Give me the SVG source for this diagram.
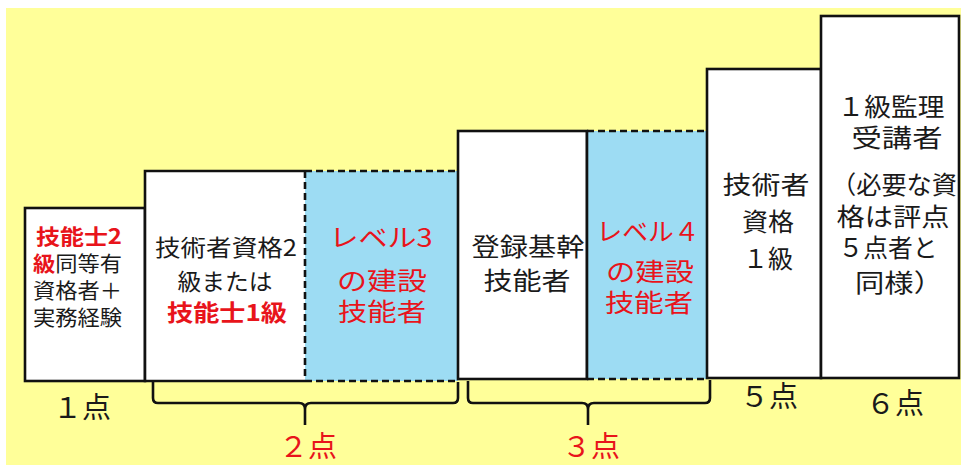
<svg xmlns="http://www.w3.org/2000/svg" width="961" height="465" viewBox="0 0 961 465">
<style>
text{font-family:"Noto Sans CJK JP","Noto Sans CJK SC",sans-serif;fill:#1a1a1a;text-anchor:middle}
.r{fill:#e8141b}
.b{font-weight:bold}
.box{fill:#fff;stroke:#111;stroke-width:2.6}
.blue{fill:#9ddcf3;stroke:none}
.sol{fill:none;stroke:#111;stroke-width:2.6}
.dash{fill:none;stroke:#111;stroke-width:2.6;stroke-dasharray:7 4}
.t1{font-size:21px;text-anchor:start}
.t2{font-size:23px}
.t3{font-size:25px}
.lbl{font-size:29px}
</style>
<rect x="6" y="8" width="955" height="457" fill="#ffff99"/>
<g id="node-1pt">
<rect class="box" x="25" y="208" width="120" height="173"/>
<text class="t1 r b" x="36" y="244" textLength="86" lengthAdjust="spacingAndGlyphs">技能士2</text>
<text class="t1" x="33" y="271" textLength="89" lengthAdjust="spacingAndGlyphs"><tspan class="r b">級</tspan>同等有</text>
<text class="t1" x="33" y="298" textLength="89" lengthAdjust="spacingAndGlyphs">資格者＋</text>
<text class="t1" x="33" y="325" textLength="89" lengthAdjust="spacingAndGlyphs">実務経験</text>
</g>
<g id="node-2pt-a">
<rect x="145" y="171" width="160" height="210" fill="#fff"/>
<path class="sol" d="M305,171 H145 V381 H305"/>
<text class="t2" x="226" y="256" textLength="142" lengthAdjust="spacingAndGlyphs">技術者資格2</text>
<text class="t2" x="225" y="290" textLength="95" lengthAdjust="spacingAndGlyphs">級または</text>
<text class="t2 r b" x="227" y="321" textLength="120" lengthAdjust="spacingAndGlyphs">技能士1級</text>
</g>
<g id="node-2pt-b">
<rect class="blue" x="305" y="171" width="153" height="210"/>
<path class="dash" d="M305,171 H458 M305,381 H458 M305,171 V381"/>
<text class="t3 r" x="381" y="247" textLength="103" lengthAdjust="spacingAndGlyphs">レベル3</text>
<text class="t3 r" x="382" y="290" textLength="90" lengthAdjust="spacingAndGlyphs">の建設</text>
<text class="t3 r" x="382" y="321" textLength="88" lengthAdjust="spacingAndGlyphs">技能者</text>
</g>
<g id="node-3pt-a">
<rect class="box" x="458" y="131" width="129" height="248"/>
<text class="t3" x="528" y="256" textLength="113" lengthAdjust="spacingAndGlyphs">登録基幹</text>
<text class="t3" x="527" y="290" textLength="87" lengthAdjust="spacingAndGlyphs">技能者</text>
</g>
<g id="node-3pt-b">
<rect class="blue" x="587" y="131" width="120" height="248"/>
<path class="dash" d="M587,131 H707 M587,379 H707"/>
<path class="sol" d="M587,131 V379"/>
<text class="t3 r" x="648" y="241" textLength="103" lengthAdjust="spacingAndGlyphs">レベル４</text>
<text class="t3 r" x="650" y="281" textLength="88" lengthAdjust="spacingAndGlyphs">の建設</text>
<text class="t3 r" x="649" y="312" textLength="88" lengthAdjust="spacingAndGlyphs">技能者</text>
</g>
<g id="node-5pt">
<rect class="box" x="707" y="69" width="114" height="309"/>
<text class="t3" x="766" y="194" textLength="87" lengthAdjust="spacingAndGlyphs">技術者</text>
<text class="t3" x="768" y="231" textLength="52" lengthAdjust="spacingAndGlyphs">資格</text>
<text class="t3" x="768" y="268" textLength="50" lengthAdjust="spacingAndGlyphs">１級</text>
</g>
<g id="node-6pt">
<rect class="box" x="821" y="16" width="138" height="362"/>
<text class="t3" x="891" y="116" textLength="107" lengthAdjust="spacingAndGlyphs">１級監理</text>
<text class="t3" x="897" y="147" textLength="91" lengthAdjust="spacingAndGlyphs">受講者</text>
<text class="t3" x="894" y="194" textLength="126" lengthAdjust="spacingAndGlyphs">（必要な資</text>
<text class="t3" x="893" y="226" textLength="113" lengthAdjust="spacingAndGlyphs">格は評点</text>
<text class="t3" x="888" y="257" textLength="99" lengthAdjust="spacingAndGlyphs">５点者と</text>
<text class="t3" x="899" y="292" textLength="88" lengthAdjust="spacingAndGlyphs">同様）</text>
</g>
<g id="connectors">
<path class="sol" d="M153,382 V398 Q153,403 158,403 H299 Q305,403 305,409 V425 M305,409 Q305,403 311,403 H453 Q458,403 458,398 V382"/>
<path class="sol" d="M468,381 V398 Q468,403 473,403 H582 Q588,403 588,409 V425 M588,409 Q588,403 594,403 H705 Q710,403 710,398 V380"/>
</g>
<g id="labels">
<text class="lbl" x="82" y="418">１点</text>
<text class="lbl r" x="308" y="457">２点</text>
<text class="lbl r" x="591" y="457">３点</text>
<text class="lbl" x="769" y="407">５点</text>
<text class="lbl" x="895" y="414">６点</text>
</g>
</svg>
